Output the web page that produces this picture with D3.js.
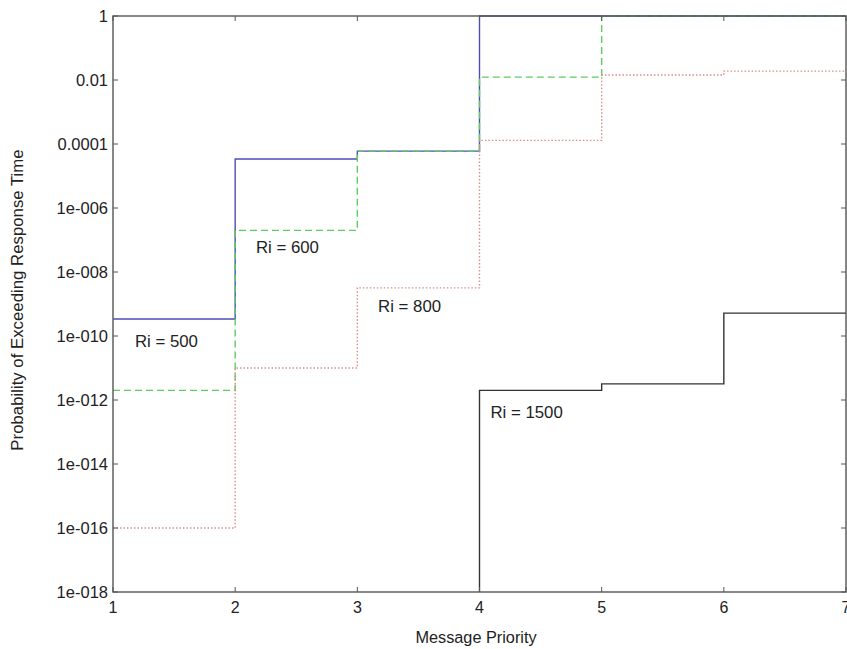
<!DOCTYPE html>
<html>
<head>
<meta charset="utf-8">
<script src="https://cdn.jsdelivr.net/npm/d3@7"></script>
<style>
  html, body { margin: 0; padding: 0; background: #fff; }
  svg { display: block; }
  text { font-family: Arial, "Liberation Sans", Helvetica, sans-serif; fill: #222; }
</style>
</head>
<body>
<svg id="chart" width="847" height="649"></svg>
<script>
// ---- data ----
const priorities = [1, 2, 3, 4, 5, 6, 7];
const xTicks = [1, 2, 3, 4, 5, 6, 7];
const yTicks = [1, 1e-2, 1e-4, 1e-6, 1e-8, 1e-10, 1e-12, 1e-14, 1e-16, 1e-18];
const yTickLabels = ["1", "0.01", "0.0001", "1e-006", "1e-008", "1e-010", "1e-012", "1e-014", "1e-016", "1e-018"];
// value on each priority interval [p, p+1]
const ri500  = [3.4e-10, 3.4e-5, 6.0e-5, 1, 1, 1];
const ri600  = [2.0e-12, 2.0e-7, 6.0e-5, 1.23e-2, 1, 1];
const ri800  = [1.0e-16, 1.0e-11, 3.2e-9, 1.3e-4, 1.44e-2, 1.9e-2];
const ri1500 = [1e-21, 1e-21, 1e-21, 2.0e-12, 3.2e-12, 5.2e-10];
const seriesNames = ["Ri = 500", "Ri = 600", "Ri = 800", "Ri = 1500"];
const labelAnchors = [[1.18, 4.5e-11], [2.17, 3.9e-8], [3.17, 5.6e-10], [4.09, 2.8e-13]];

// ---- layout ----
const svg = d3.select("#chart");
const m = { left: 113, top: 16, right: 846, bottom: 592 };
const x = d3.scaleLinear().domain([1, 7]).range([m.left, m.right]);
const y = d3.scaleLog().domain([1e-18, 1]).range([m.bottom, m.top]);

svg.append("clipPath").attr("id", "clip")
  .append("rect").attr("x", m.left).attr("y", m.top - 1)
  .attr("width", m.right - m.left).attr("height", m.bottom - m.top + 1);

const series = [
  { vals: ri500,  color: "#4d4db8", dash: null, width: 1.4 },
  { vals: ri600,  color: "#5fcc5f", dash: "7,4", width: 1.4 },
  { vals: ri800,  color: "#d98c8c", dash: "1.5,2", width: 1.4 },
  { vals: ri1500, color: "#333333", dash: null, width: 1.4 }
];

const line = d3.line()
  .x(d => x(d[0]))
  .y(d => y(d[1]))
  .curve(d3.curveStepAfter);

const g = svg.append("g").attr("clip-path", "url(#clip)");
series.forEach(s => {
  const pts = priorities.map((p, i) => [p, s.vals[Math.min(i, s.vals.length - 1)]]);
  g.append("path")
    .attr("d", line(pts))
    .attr("fill", "none")
    .attr("stroke", s.color)
    .attr("stroke-width", s.width)
    .attr("stroke-dasharray", s.dash);
});

// ---- frame & ticks ----
const frameColor = "#555";
svg.append("rect")
  .attr("x", m.left).attr("y", m.top)
  .attr("width", m.right - m.left).attr("height", m.bottom - m.top)
  .attr("fill", "none").attr("stroke", frameColor).attr("stroke-width", 1.4);

const tl = 5;
const xt = svg.append("g");
xTicks.forEach(t => {
  xt.append("line").attr("x1", x(t)).attr("x2", x(t)).attr("y1", m.bottom).attr("y2", m.bottom - tl)
    .attr("stroke", frameColor);
  xt.append("line").attr("x1", x(t)).attr("x2", x(t)).attr("y1", m.top).attr("y2", m.top + tl)
    .attr("stroke", frameColor);
  xt.append("text").attr("x", x(t)).attr("y", 613)
    .attr("text-anchor", "middle").attr("font-size", 16).text(t);
});
const yt = svg.append("g");
yTicks.forEach((t, i) => {
  yt.append("line").attr("x1", m.left).attr("x2", m.left + tl).attr("y1", y(t)).attr("y2", y(t))
    .attr("stroke", frameColor);
  yt.append("line").attr("x1", m.right).attr("x2", m.right - tl).attr("y1", y(t)).attr("y2", y(t))
    .attr("stroke", frameColor);
  yt.append("text").attr("x", m.left - 5).attr("y", y(t) + 6)
    .attr("text-anchor", "end").attr("font-size", 16.5).text(yTickLabels[i]);
});

// ---- axis titles ----
svg.append("text").attr("x", 476).attr("y", 643)
  .attr("text-anchor", "middle").attr("font-size", 16.3).text("Message Priority");
svg.append("text")
  .attr("transform", `translate(23, 300) rotate(-90)`)
  .attr("text-anchor", "middle").attr("font-size", 16.8)
  .text("Probability of Exceeding Response Time");

// ---- annotations ----
seriesNames.forEach((n, i) => {
  svg.append("text")
    .attr("x", x(labelAnchors[i][0]))
    .attr("y", y(labelAnchors[i][1]))
    .attr("font-size", 16.8)
    .text(n);
});
</script>
</body>
</html>
